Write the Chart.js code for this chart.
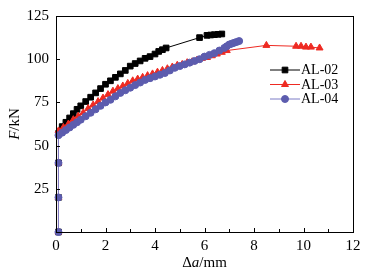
<!DOCTYPE html>
<html>
<head>
<meta charset="utf-8">
<script src="https://cdn.jsdelivr.net/npm/chart.js"></script>
<style>
  body { margin: 0; background: #fff; }
  canvas { display: block; }
</style>
</head>
<body>
<canvas id="chart" width="369" height="275"></canvas>
<script>
// values: crack extension (mm) vs load (kN)
const al02X = [0.1, 0.1, 0.1, 0.1, 0.25, 0.4, 0.55, 0.7, 0.85, 1.0, 1.2, 1.4, 1.6, 1.8, 2.0, 2.2, 2.4, 2.6, 2.8, 3.0,
  3.2, 3.4, 3.6, 3.8, 4.0, 4.15, 4.3, 4.45, 5.8, 6.1, 6.25, 6.4, 6.55, 6.7];
const al02F = [0, 20, 40, 57, 61, 63.5, 66, 68.5, 71, 73, 75.5, 78, 80.5, 83, 85.5, 87.5, 89.5, 91.5, 93.5, 96,
  97.5, 99, 100.5, 101.5, 103, 104.5, 105.5, 106.5, 112.5, 113.8, 114, 114.2, 114.4, 114.6];

const al03X = [0.1, 0.1, 0.1, 0.1, 0.3, 0.5, 0.7, 0.9, 1.1, 1.3, 1.5, 1.7, 1.9, 2.1, 2.3, 2.5, 2.7, 2.9, 3.1, 3.3,
  3.5, 3.7, 3.9, 4.1, 4.3, 4.5, 4.7, 4.9, 5.1, 5.3, 5.5, 5.7, 5.9, 6.1, 6.3, 6.5, 6.7, 6.9, 8.5,
  9.7, 9.9, 10.1, 10.3, 10.65];
const al03F = [0, 20, 40, 58.5, 60.5, 62.5, 65, 67, 69, 71.5, 73.5, 75.5, 77.5, 79.5, 81.5, 83, 84.5, 86, 87.5, 88.5,
  89.5, 90.5, 91.5, 92.5, 93.5, 94.5, 95.5, 96.5, 97, 98, 98.5, 99.5, 100.5, 101, 102, 103, 104, 105, 108,
  107.5, 107.5, 107, 107, 106.5];

const al04X = [0.1, 0.1, 0.1, 0.1, 0.25, 0.4, 0.55, 0.7, 0.85, 1.0, 1.2, 1.4, 1.6, 1.8, 2.0, 2.2, 2.4, 2.6, 2.8, 3.0,
  3.2, 3.4, 3.6, 3.8, 4.0, 4.2, 4.4, 4.6, 4.8, 5.0, 5.2, 5.4, 5.6, 5.8, 6.0, 6.2, 6.4, 6.6, 6.8,
  6.9, 7.0, 7.1, 7.2, 7.3, 7.4];
const al04F = [0, 20, 40, 56, 57.5, 59, 60.5, 62, 63.5, 65, 67, 69, 71, 73, 75, 76.5, 78.5, 80.5, 82, 83.5,
  85, 86.5, 88, 89, 90, 91, 92, 93.5, 95, 96, 97, 98, 99, 100, 101.5, 102.5, 103.5, 105, 106.5,
  107.5, 108.5, 109, 109.5, 110, 110.5];

const seriesNames = ['AL-02', 'AL-03', 'AL-04'];
const xTicks = [0, 2, 4, 6, 8, 10, 12];
const yTicks = [0, 25, 50, 75, 100, 125];

const FONT = '"Liberation Serif", "Times New Roman", serif';

function toPoints(xs, ys) {
  return xs.map((x, i) => ({ x: x, y: ys[i] }));
}

// cadre, graduations intérieures, titres d'axes et légende
const decorations = {
  id: 'decorations',
  afterDraw(chart) {
    const ctx = chart.ctx;
    const area = chart.chartArea;
    const sx = chart.scales.x;
    const sy = chart.scales.y;
    ctx.save();
    ctx.strokeStyle = '#000';
    ctx.lineWidth = 1;
    ctx.strokeRect(Math.round(area.left) + 0.5, Math.round(area.top) + 0.5,
      Math.round(area.right - area.left), Math.round(area.bottom - area.top));

    ctx.beginPath();
    for (let v = 0; v <= 12; v++) {
      const px = Math.round(sx.getPixelForValue(v)) + 0.5;
      const len = v % 2 === 0 ? 4 : 3;
      ctx.moveTo(px, area.bottom);
      ctx.lineTo(px, area.bottom - len);
    }
    yTicks.forEach(v => {
      const py = Math.round(sy.getPixelForValue(v)) + 0.5;
      ctx.moveTo(area.left, py);
      ctx.lineTo(area.left + 4, py);
    });
    ctx.stroke();

    // x title: Δa/mm
    ctx.fillStyle = '#000';
    ctx.textBaseline = 'middle';
    const parts = [['Δ', ''], ['a', 'italic '], ['/mm', '']];
    let total = 0;
    parts.forEach(p => { ctx.font = p[1] + '15px ' + FONT; total += ctx.measureText(p[0]).width; });
    let cx = (area.left + area.right) / 2 - total / 2;
    parts.forEach(p => {
      ctx.font = p[1] + '15px ' + FONT;
      ctx.textAlign = 'left';
      ctx.fillText(p[0], cx, 263);
      cx += ctx.measureText(p[0]).width;
    });

    // y title: F/kN
    ctx.save();
    ctx.translate(15, (area.top + area.bottom) / 2);
    ctx.rotate(-Math.PI / 2);
    const yparts = [['F', 'italic '], ['/kN', '']];
    total = 0;
    yparts.forEach(p => { ctx.font = p[1] + '15px ' + FONT; total += ctx.measureText(p[0]).width; });
    cx = -total / 2;
    yparts.forEach(p => {
      ctx.font = p[1] + '15px ' + FONT;
      ctx.fillText(p[0], cx, 0);
      cx += ctx.measureText(p[0]).width;
    });
    ctx.restore();

    // légende
    const rows = [70, 84.5, 99];
    chart.data.datasets.forEach((ds, i) => {
      const y = rows[i];
      ctx.strokeStyle = ds.borderColor;
      ctx.lineWidth = 1;
      ctx.beginPath();
      ctx.moveTo(270, y);
      ctx.lineTo(300, y);
      ctx.stroke();
      ctx.fillStyle = ds.pointBackgroundColor;
      ctx.strokeStyle = ds.pointBackgroundColor;
      Chart.helpers.drawPoint(ctx, {
        pointStyle: ds.pointStyle, radius: ds.pointRadius, rotation: 0, borderWidth: 1
      }, 285, y);
      ctx.fillStyle = '#000';
      ctx.font = '14px ' + FONT;
      ctx.textAlign = 'left';
      ctx.fillText(seriesNames[i], 301, y + 0.5);
    });
    ctx.restore();
  }
};

const ctx = document.getElementById('chart').getContext('2d');
new Chart(ctx, {
  type: 'line',
  data: {
    datasets: [
      {
        label: seriesNames[0],
        data: toPoints(al02X, al02F),
        borderColor: '#000000',
        borderWidth: 1,
        pointStyle: 'rect',
        pointRadius: 4,
        pointBackgroundColor: '#000000',
        pointBorderColor: '#000000',
        clip: false,
        order: 2
      },
      {
        label: seriesNames[1],
        data: toPoints(al03X, al03F),
        borderColor: '#ee2a22',
        borderWidth: 1,
        pointStyle: 'triangle',
        pointRadius: 4,
        pointBackgroundColor: '#ee2a22',
        pointBorderColor: '#ee2a22',
        clip: false,
        order: 1
      },
      {
        label: seriesNames[2],
        data: toPoints(al04X, al04F),
        borderColor: '#7c7cc6',
        borderWidth: 1,
        pointStyle: 'circle',
        pointRadius: 3.5,
        pointBackgroundColor: '#5c5cae',
        pointBorderColor: '#5c5cae',
        clip: false,
        order: 0
      }
    ]
  },
  options: {
    responsive: false,
    animation: false,
    layout: { padding: { left: 0, right: 16, top: 12, bottom: 0 } },
    plugins: {
      legend: { display: false },
      tooltip: { enabled: false }
    },
    scales: {
      x: {
        type: 'linear',
        min: 0,
        max: 12,
        afterFit: (scale) => { scale.height = 43; },
        afterBuildTicks: (scale) => { scale.ticks = xTicks.map(v => ({ value: v })); },
        grid: { display: false, drawTicks: false },
        border: { display: true, color: '#000', width: 1 },
        ticks: { color: '#000', padding: 5, maxRotation: 0, font: { family: FONT, size: 15 } }
      },
      y: {
        min: 0,
        max: 125,
        afterFit: (scale) => { scale.width = 56; },
        afterBuildTicks: (scale) => { scale.ticks = yTicks.map(v => ({ value: v })); },
        grid: { display: false, drawTicks: false },
        border: { display: true, color: '#000', width: 1 },
        ticks: {
          color: '#000',
          padding: 7,
          font: { family: FONT, size: 15 },
          callback: (v) => (v === 0 ? '' : v)
        }
      }
    }
  },
  plugins: [decorations]
});
</script>
</body>
</html>
